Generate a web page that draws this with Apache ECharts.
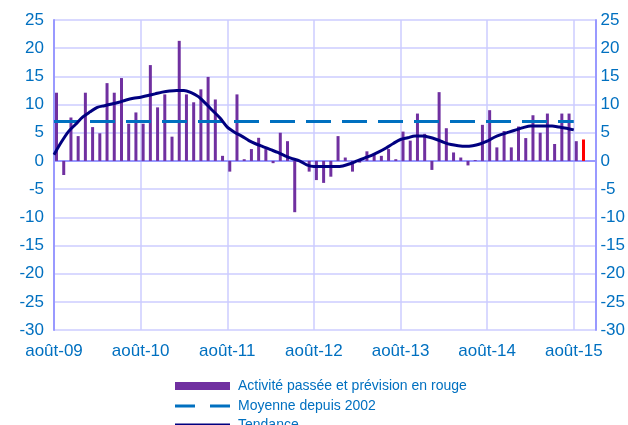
<!DOCTYPE html>
<html>
<head>
<meta charset="utf-8">
<script src="https://cdn.jsdelivr.net/npm/echarts@6/dist/echarts.min.js"></script>
<style>
  html, body { margin: 0; padding: 0; background: #fff; }
  #chart { width: 628px; height: 425px; }
</style>
</head>
<body>
<div id="chart"></div>
<script>
// mois de août-09 à nov-15 (76 positions, les 2 dernières vides)
const xLabels = ['août-09', 'août-10', 'août-11', 'août-12', 'août-13', 'août-14', 'août-15']
const nbMois = 76

// activité passée, août-09 -> août-15
const activite = [
  12.1, -2.5, 7.7, 4.4, 12.1, 6.0, 4.9, 13.8, 12.1, 14.7, 6.6, 8.6,
  6.6, 17.0, 9.5, 11.8, 4.3, 21.3, 11.8, 10.4, 12.7, 14.9, 10.9, 0.9,
  -1.9, 11.8, 0.3, 2.1, 4.1, 2.1, -0.4, 5.0, 3.5, -9.1, -0.2, -1.9,
  -3.4, -3.9, -2.8, 4.4, 0.6, -1.9, -0.3, 1.7, 1.1, 0.9, 2.1, 0.3,
  5.2, 3.6, 8.4, 4.8, -1.6, 12.2, 5.8, 1.5, 0.6, -0.8, 0.15, 6.4,
  9.0, 2.4, 5.3, 2.4, 6.1, 4.05, 8.1, 5.0, 8.4, 3.0, 8.4, 8.4, 3.5
]
// prévision (sept-15)
const prevision = [3.8]

const moyenne = 7

const tendance = [
  1.1, 3.3, 5.2, 6.5, 7.8, 8.7, 9.5, 9.8, 10.1, 10.4, 10.8, 11.1,
  11.3, 11.6, 11.9, 12.2, 12.4, 12.5, 12.5, 12.1, 11.4, 10.2, 8.9, 7.6,
  6.0, 5.1, 4.4, 3.6, 3.0, 2.5, 2.0, 1.5, 0.9, 0.4, 0.0, -0.7,
  -1.0, -1.0, -1.0, -1.0, -0.9, -0.5, 0.0, 0.5, 1.0, 1.6, 2.3, 3.1,
  3.8, 4.1, 4.4, 4.4, 4.2, 3.8, 3.3, 2.9, 2.7, 2.6, 2.7, 3.0,
  3.5, 4.2, 4.7, 5.1, 5.5, 5.9, 6.2, 6.2, 6.2, 6.2, 6.0, 5.8, 5.5
]

const categories = []
for (let i = 0; i < nbMois; i++) categories.push(i)

const barData = activite.map(v => v).concat(prevision.map(v => ({
  value: v,
  itemStyle: { color: '#FF0000' }
})))
const moyenneData = activite.map(() => moyenne)

const blue = '#0070C0'
const fontFam = 'Liberation Sans, Arial, sans-serif'

// une légende par ligne pour garder une seule colonne
let legendItem = (name, top, icon, h) => ({
  left: 170,
  top: top,
  itemWidth: 55,
  itemHeight: h,
  itemGap: 0,
  selectedMode: false,
  textStyle: { color: blue, fontSize: 14, fontFamily: fontFam, lineHeight: 14, padding: [0, 0, 0, 3] },
  data: [{ name: name, icon: icon }]
})

let chartInstance = echarts.init(document.getElementById('chart'))
const option = {
  animation: false,
  grid: { left: 54, right: 28, top: 20, bottom: 95 },
  legend: [
    legendItem('Activité passée et prévision en rouge', 374, 'rect', 8),
    legendItem('Moyenne depuis 2002', 394, 'path://M0,0h20v3h-20z M35,0h20v3h-20z', 3),
    legendItem('Tendance', 413, 'rect', 3)
  ],
  xAxis: {
    type: 'category',
    data: categories,
    boundaryGap: false,
    axisLine: { lineStyle: { color: '#9999FF', width: 2 } },
    axisTick: { show: false },
    axisLabel: {
      interval: (i) => i % 12 === 0,
      formatter: (v, i) => xLabels[i / 12] || '',
      color: blue,
      fontSize: 17,
      fontFamily: fontFam,
      margin: 13
    },
    splitLine: {
      show: true,
      interval: (i) => i % 12 === 0,
      lineStyle: { color: '#CCCCFF', width: 1.5 }
    }
  },
  yAxis: [
    {
      type: 'value',
      min: -30, max: 25, interval: 5,
      axisLine: { show: true, lineStyle: { color: '#9999FF', width: 2 } },
      axisTick: { show: false },
      axisLabel: { color: blue, fontSize: 17, fontFamily: fontFam, margin: 10 },
      splitLine: { lineStyle: { color: '#CCCCFF', width: 1.5 } }
    },
    {
      type: 'value',
      min: -30, max: 25, interval: 5,
      position: 'right',
      axisLine: { show: true, lineStyle: { color: '#9999FF', width: 2 } },
      axisTick: { show: false },
      axisLabel: { color: blue, fontSize: 17, fontFamily: fontFam, margin: 5 },
      splitLine: { show: false }
    }
  ],
  series: [
    {
      // série vide : décale les barres d'environ 2 px vers la droite comme sur l'original
      name: 'decalage',
      type: 'bar',
      barWidth: 3,
      barGap: '67%',
      data: []
    },
    {
      name: 'Activité passée et prévision en rouge',
      type: 'bar',
      barWidth: 3,
      barGap: '67%',
      clip: false,
      itemStyle: { color: '#7030A0' },
      data: barData
    },
    {
      name: 'Moyenne depuis 2002',
      type: 'line',
      symbol: 'none',
      lineStyle: { color: blue, width: 3, type: [25, 11] },
      itemStyle: { color: blue },
      data: moyenneData
    },
    {
      name: 'Tendance',
      type: 'line',
      symbol: 'none',
      smooth: 0.3,
      lineStyle: { color: '#000080', width: 3 },
      itemStyle: { color: '#000080' },
      data: tendance
    }
  ]
}
chartInstance.setOption(option)
</script>
</body>
</html>
